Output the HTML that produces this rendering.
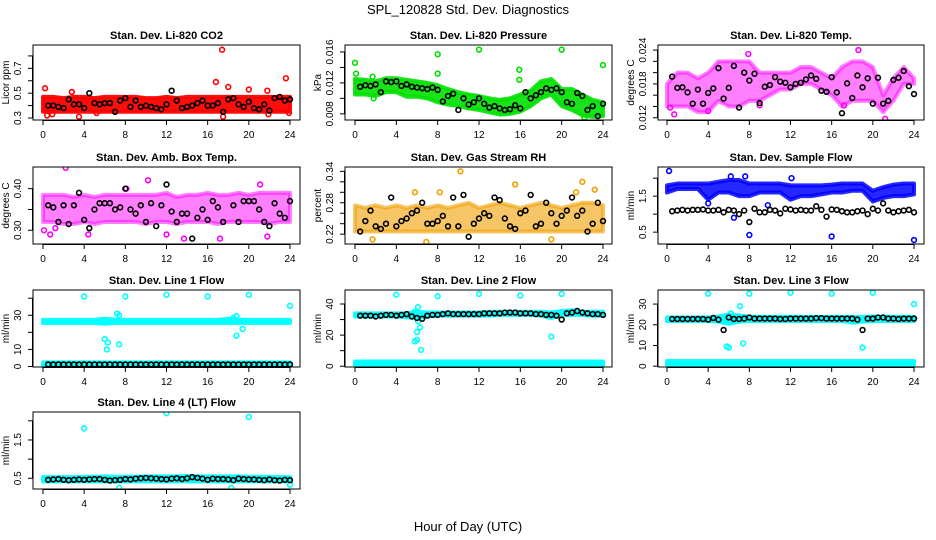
<!DOCTYPE html>
<html><head><meta charset="utf-8">
<style>
html,body{margin:0;padding:0;background:#fff;}
svg{display:block;font-family:"Liberation Sans",Arial,sans-serif;}
</style></head>
<body>
<svg id="chart" width="936" height="540" viewBox="0 0 936 540">
<text x="468" y="14" text-anchor="middle" font-size="13">SPL_120828  Std. Dev. Diagnostics</text>
<text x="468" y="531" text-anchor="middle" font-size="13">Hour of Day (UTC)</text>
</svg>
<script>
// ---------- data ----------
const HOURS = [0.5,1.0,1.5,2.0,2.5,3.0,3.5,4.0,4.5,5.0,5.5,6.0,6.5,7.0,7.5,8.0,8.5,9.0,9.5,10.0,10.5,11.0,11.5,12.0,12.5,13.0,13.5,14.0,14.5,15.0,15.5,16.0,16.5,17.0,17.5,18.0,18.5,19.0,19.5,20.0,20.5,21.0,21.5,22.0,22.5,23.0,23.5,24.0];
const BAND_HOURS = [0,1,2,3,4,5,6,7,8,9,10,11,12,13,14,15,16,17,18,19,20,21,22,23,24];
const X_TICKS = [0,4,8,12,16,20,24];

const CO2_BLACK = [0.40,0.40,0.39,0.38,0.45,0.41,0.41,0.38,0.50,0.42,0.41,0.42,0.42,0.35,0.44,0.46,0.39,0.44,0.39,0.40,0.39,0.38,0.37,0.41,0.52,0.44,0.38,0.39,0.40,0.42,0.44,0.40,0.40,0.42,0.35,0.45,0.46,0.41,0.39,0.43,0.38,0.37,0.41,0.36,0.46,0.47,0.44,0.45];
const CO2_LO = [0.35,0.35,0.35,0.35,0.35,0.35,0.35,0.35,0.35,0.35,0.35,0.35,0.35,0.35,0.35,0.35,0.35,0.35,0.35,0.35,0.35,0.35,0.35,0.35,0.35];
const CO2_HI = [0.47,0.47,0.46,0.47,0.47,0.46,0.47,0.47,0.47,0.47,0.46,0.46,0.47,0.46,0.47,0.47,0.47,0.47,0.47,0.47,0.47,0.47,0.47,0.47,0.47];
const CO2_OUT_X = [0.2,0.4,2.8,3.5,16.8,17.4,18.0,20.0,21.8,23.6,23.9,17.5,21.9,0.9,5.2];
const CO2_OUT_Y = [0.54,0.32,0.51,0.31,0.59,0.85,0.55,0.53,0.52,0.62,0.34,0.31,0.33,0.33,0.34];

const PRES_BLACK = [0.0115,0.0117,0.0116,0.0118,0.0108,0.0122,0.0121,0.0122,0.0116,0.0118,0.0115,0.0114,0.0113,0.0112,0.0114,0.0111,0.0096,0.0103,0.0106,0.0085,0.0100,0.0092,0.0095,0.0100,0.0093,0.0088,0.0090,0.0087,0.0085,0.0086,0.0091,0.0087,0.0108,0.0100,0.0104,0.0108,0.0113,0.0111,0.0113,0.0108,0.0095,0.0093,0.0107,0.0103,0.0085,0.0090,0.0077,0.0093];
const PRES_LO = [0.0105,0.0105,0.0103,0.0108,0.0108,0.0102,0.0102,0.0100,0.0095,0.0092,0.0090,0.0087,0.0085,0.0082,0.0079,0.0080,0.0083,0.0090,0.0100,0.0105,0.0090,0.0085,0.0078,0.0076,0.0077];
const PRES_HI = [0.0125,0.0124,0.0122,0.0126,0.0126,0.0124,0.0122,0.0120,0.0117,0.0112,0.0108,0.0105,0.0103,0.0100,0.0098,0.0100,0.0105,0.0110,0.0122,0.0125,0.0112,0.0112,0.0105,0.0098,0.0095];
const PRES_OUT_X = [0.0,0.1,1.7,4.0,8.0,8.0,12.0,15.9,15.9,20.0,24.0,1.8,22.2];
const PRES_OUT_Y = [0.0146,0.0132,0.0128,0.0187,0.0157,0.0132,0.0163,0.0137,0.0124,0.0163,0.0143,0.0100,0.0075];

const TEMP_BLACK = [0.0193,0.0173,0.0174,0.0165,0.0145,0.0170,0.0145,0.0164,0.0172,0.0208,0.0154,0.0173,0.0212,0.0138,0.0200,0.0186,0.0198,0.0146,0.0175,0.0178,0.0192,0.0184,0.0182,0.0174,0.0180,0.0182,0.0188,0.0195,0.0189,0.0168,0.0166,0.0192,0.0165,0.0128,0.0181,0.0155,0.0195,0.0174,0.0190,0.0145,0.0191,0.0145,0.0150,0.0187,0.0191,0.0203,0.0176,0.0162];
const TEMP_LO = [0.0140,0.0140,0.0140,0.0130,0.0130,0.0150,0.0140,0.0140,0.0150,0.0150,0.0160,0.0170,0.0170,0.0180,0.0180,0.0170,0.0160,0.0140,0.0150,0.0150,0.0150,0.0130,0.0150,0.0180,0.0180];
const TEMP_HI = [0.0180,0.0200,0.0200,0.0190,0.0200,0.0220,0.0220,0.0220,0.0220,0.0200,0.0200,0.0200,0.0200,0.0210,0.0210,0.0200,0.0190,0.0210,0.0220,0.0220,0.0210,0.0160,0.0190,0.0210,0.0190];
const TEMP_OUT_X = [0.3,0.7,7.9,18.6,21.2,9.0,4.0,17.2];
const TEMP_OUT_Y = [0.0138,0.0126,0.0233,0.0240,0.0118,0.0142,0.0132,0.0142];

const BOX_BLACK = [0.36,0.355,0.32,0.36,0.315,0.36,0.39,0.325,0.305,0.35,0.365,0.365,0.365,0.35,0.355,0.40,0.35,0.34,0.36,0.32,0.365,0.31,0.36,0.41,0.345,0.32,0.34,0.34,0.28,0.33,0.35,0.325,0.37,0.355,0.32,0.26,0.36,0.32,0.37,0.37,0.37,0.35,0.32,0.31,0.365,0.34,0.33,0.37];
const BOX_LO = [0.32,0.32,0.315,0.315,0.32,0.315,0.32,0.32,0.32,0.32,0.315,0.32,0.32,0.315,0.32,0.32,0.32,0.315,0.32,0.32,0.32,0.32,0.315,0.32,0.32];
const BOX_HI = [0.385,0.385,0.385,0.38,0.385,0.38,0.385,0.385,0.385,0.385,0.385,0.385,0.39,0.38,0.385,0.385,0.39,0.385,0.385,0.39,0.385,0.39,0.39,0.39,0.39];
const BOX_OUT_X = [0.1,0.7,2.2,10.2,21.1,13.7,12.0,17.2,1.2,21.8,4.4,8.1];
const BOX_OUT_Y = [0.30,0.29,0.45,0.42,0.41,0.28,0.29,0.28,0.305,0.285,0.29,0.40];

const RH_BLACK = [0.225,0.245,0.265,0.235,0.23,0.24,0.29,0.235,0.245,0.25,0.26,0.265,0.28,0.24,0.24,0.245,0.255,0.235,0.29,0.235,0.295,0.215,0.24,0.25,0.26,0.255,0.29,0.285,0.25,0.235,0.23,0.26,0.265,0.295,0.235,0.24,0.28,0.26,0.24,0.255,0.265,0.29,0.255,0.265,0.225,0.24,0.28,0.245];
const RH_LO = [0.225,0.225,0.225,0.225,0.225,0.225,0.225,0.225,0.225,0.225,0.225,0.225,0.225,0.225,0.225,0.225,0.225,0.225,0.225,0.225,0.225,0.225,0.225,0.225,0.225];
const RH_HI = [0.275,0.27,0.275,0.27,0.275,0.27,0.275,0.27,0.275,0.27,0.275,0.28,0.27,0.275,0.28,0.275,0.27,0.275,0.28,0.275,0.27,0.275,0.28,0.28,0.275];
const RH_OUT_X = [10.2,6.9,1.7,15.5,22.0,23.2,5.8,8.2,21.4,19.0];
const RH_OUT_Y = [0.34,0.205,0.21,0.315,0.32,0.305,0.30,0.30,0.30,0.21];

const FLOW_BLACK = [1.08,1.10,1.12,1.10,1.12,1.12,1.13,1.10,1.10,1.12,1.05,1.12,1.10,1.00,1.10,0.78,1.15,1.05,1.05,1.12,1.10,1.02,1.15,1.13,1.10,1.12,1.10,1.10,1.22,1.12,0.93,1.13,1.12,1.08,1.05,1.05,1.08,1.10,1.00,1.15,1.10,1.30,1.10,1.05,1.08,1.10,1.12,1.05];
const FLOW_LO = [1.6,1.7,1.7,1.7,1.4,1.6,1.6,1.5,1.5,1.6,1.6,1.6,1.4,1.5,1.5,1.55,1.6,1.6,1.65,1.65,1.35,1.45,1.5,1.5,1.55];
const FLOW_HI = [1.8,1.85,1.85,1.85,1.85,1.9,1.95,1.95,1.85,1.85,1.85,1.85,1.8,1.8,1.8,1.8,1.82,1.85,1.85,1.85,1.65,1.75,1.82,1.85,1.85];
const FLOW_OUT_X = [0.2,8.0,16.0,24.0,6.5,4.0,9.8,6.2,7.6,12.1];
const FLOW_OUT_Y = [2.2,0.42,0.38,0.28,0.90,1.30,1.25,2.05,2.05,2.00];

const L1_BLACK = [1.2,1.2,1.2,1.2,1.2,1.2,1.2,1.2,1.2,1.2,1.2,1.2,1.2,1.2,1.2,1.2,1.2,1.2,1.2,1.2,1.2,1.2,1.2,1.2,1.2,1.2,1.2,1.2,1.2,1.2,1.2,1.2,1.2,1.2,1.2,1.2,1.2,1.2,1.2,1.2,1.2,1.2,1.2,1.2,1.2,1.2,1.2,1.2];
const L1_LO = [25.5,25.5,25.5,25.5,25.5,25.5,25.0,25.5,25.5,25.5,25.5,25.5,25.5,25.5,25.5,25.5,25.5,25.5,25.5,25.5,25.5,25.5,25.5,25.5,25.5];
const L1_HI = [27.3,27.3,27.3,27.3,27.3,27.3,28.0,27.5,27.3,27.3,27.3,27.3,27.3,27.3,27.3,27.3,27.3,27.3,28.0,27.5,27.3,27.3,27.3,27.3,27.3];
const L1_LO2 = [0.6,0.6,0.6,0.6,0.6,0.6,0.6,0.6,0.6,0.6,0.6,0.6,0.6,0.6,0.6,0.6,0.6,0.6,0.6,0.6,0.6,0.6,0.6,0.6,0.6];
const L1_HI2 = [2.4,2.4,2.4,2.4,2.4,2.4,2.4,2.4,2.4,2.4,2.4,2.4,2.4,2.4,2.4,2.4,2.4,2.4,2.4,2.4,2.4,2.4,2.4,2.4,2.4];
const L1_OUT_X = [4,8,12,16,20,24,6.0,6.2,6.3,7.2,7.4,7.4,18.8,19.4,18.5,18.8];
const L1_OUT_Y = [41,41,42,41,42,35.5,16,10,14,31,30,13,18,22,28.5,29.5];

const L2_BLACK = [32.5,32.5,32.5,32,32.5,33,33,32.5,33,33.5,32,31,30.5,32.5,33,33,33.5,34,33.5,33.5,33.5,33.5,33.5,33.5,34,34,34,34,34.5,34.5,34.5,34,34,34,33.5,33.5,33,33,32.5,30,34,34.5,35.5,34.5,34,33.5,33.5,33];
const L2_LO = [32,32,32,32,32,31.5,31,32,32.5,32.5,32.5,32.5,32.5,32.5,33,33,33,33,32.5,31,33,33,33,32.5,32.5];
const L2_HI = [34,34,34,34,34,34,35,34.5,34.5,34.5,34.5,34.5,34.5,35,35,35,35,35,35,34.5,35.5,36,35,35,35];
const L2_LO2 = [0.5,0.5,0.5,0.5,0.5,0.5,0.5,0.5,0.5,0.5,0.5,0.5,0.5,0.5,0.5,0.5,0.5,0.5,0.5,0.5,0.5,0.5,0.5,0.5,0.5];
const L2_HI2 = [3,3,3,3,3,3,3,3,3,3,3,3,3,3,3,3,3,3,3,3,3,3,3,3,3];
const L2_OUT_X = [4,8,12,16,20,5.8,6.0,6.0,6.3,6.4,6.1,5.8,19,6.1];
const L2_OUT_Y = [46,45,46.5,45.5,46.5,16,17,22,25,10.5,38,35,19,29];

const L3_BLACK = [22.8,22.8,22.8,22.8,22.8,22.8,22.8,22.5,23.3,22.5,17.5,23.5,22.8,22.8,23,23.5,23,23,23,23,23,22.8,22.8,23,23,23,23,23,23.2,23.2,23,23,23,23,23,23,22.5,17.5,23,23,23.5,23.5,23,23,22.8,23,23,23];
const L3_LO = [21.8,21.8,21.8,21.8,21.8,21.5,20.5,21.5,21.8,21.8,21.8,21.8,21.8,21.8,21.8,21.8,21.8,21.8,21.0,21.5,21.8,21.8,21.8,21.8,21.8];
const L3_HI = [23.5,23.5,23.5,23.5,23.5,24,25,24.5,24,23.8,23.8,23.8,23.8,23.8,23.8,23.8,23.8,23.8,23.8,23.8,24,24,23.8,23.8,23.8];
const L3_LO2 = [0.5,0.5,0.5,0.5,0.5,0.5,0.5,0.5,0.5,0.5,0.5,0.5,0.5,0.5,0.5,0.5,0.5,0.5,0.5,0.5,0.5,0.5,0.5,0.5,0.5];
const L3_HI2 = [2.5,2.5,2.5,2.5,2.5,2.5,2.5,2.5,2.5,2.5,2.5,2.5,2.5,2.5,2.5,2.5,2.5,2.5,2.5,2.5,2.5,2.5,2.5,2.5,2.5];
const L3_OUT_X = [4,8,12,16,20,24,5.8,6.0,7.4,7.1,19,6.2];
const L3_OUT_Y = [35,35,35.5,35,35.5,30,9.5,9,11,29,9,25.5];

const L4_BLACK = [0.46,0.47,0.48,0.46,0.45,0.46,0.47,0.46,0.47,0.48,0.48,0.46,0.44,0.45,0.46,0.48,0.47,0.49,0.50,0.51,0.50,0.49,0.48,0.47,0.49,0.50,0.48,0.50,0.53,0.51,0.49,0.46,0.49,0.48,0.48,0.47,0.45,0.49,0.48,0.47,0.47,0.46,0.45,0.47,0.45,0.44,0.46,0.45];
const L4_LO = [0.42,0.42,0.42,0.42,0.42,0.42,0.42,0.42,0.42,0.42,0.42,0.42,0.42,0.42,0.42,0.42,0.42,0.42,0.42,0.42,0.42,0.42,0.42,0.42,0.42];
const L4_HI = [0.53,0.53,0.53,0.53,0.54,0.54,0.55,0.54,0.54,0.54,0.55,0.55,0.55,0.55,0.56,0.55,0.55,0.55,0.55,0.55,0.54,0.54,0.54,0.53,0.53];
const L4_OUT_X = [4,12,20,7.4,18.3,24];
const L4_OUT_Y = [1.8,2.2,2.1,0.25,0.25,0.33];

// ---------- layout ----------
const COL_X0 = [43,355,667], COL_X24 = [290,603,914];
const BOX_L = [33,345,658], BOX_R = [300,612,924];
const ROW_T = [45,167,290,412], ROW_B = [120,244,367,489];

const panels = [
 {name:'co2',title:'Stan. Dev. Li-820 CO2',ylab:'Licor ppm',r:0,c:0,dom:[0.284,0.888],ticks:[0.3,0.4,0.5,0.6,0.7,0.8],labels:['0.3','','0.5','','0.7',''],color:'#ff0000',bandOp:0.95,black:CO2_BLACK,lo:CO2_LO,hi:CO2_HI,ox:CO2_OUT_X,oy:CO2_OUT_Y},
 {name:'pressure',title:'Stan. Dev. Li-820 Pressure',ylab:'kPa',r:0,c:1,dom:[0.0072,0.0169],ticks:[0.008,0.010,0.012,0.014,0.016],labels:['0.008','','0.012','','0.016'],color:'#00e000',bandOp:0.9,black:PRES_BLACK,lo:PRES_LO,hi:PRES_HI,ox:PRES_OUT_X,oy:PRES_OUT_Y},
 {name:'li820-temp',title:'Stan. Dev. Li-820 Temp.',ylab:'degrees C',r:0,c:2,dom:[0.0116,0.0249],ticks:[0.012,0.014,0.016,0.018,0.020,0.022,0.024],labels:['0.012','','','0.018','','','0.024'],color:'#ff00ff',bandOp:0.5,black:TEMP_BLACK,lo:TEMP_LO,hi:TEMP_HI,ox:TEMP_OUT_X,oy:TEMP_OUT_Y},
 {name:'box-temp',title:'Stan. Dev. Amb. Box Temp.',ylab:'degrees C',r:1,c:0,dom:[0.267,0.452],ticks:[0.30,0.35,0.40],labels:['0.30','','0.40'],color:'#ff00ff',bandOp:0.5,black:BOX_BLACK,lo:BOX_LO,hi:BOX_HI,ox:BOX_OUT_X,oy:BOX_OUT_Y},
 {name:'rh',title:'Stan. Dev. Gas Stream RH',ylab:'percent',r:1,c:1,dom:[0.2012,0.3483],ticks:[0.22,0.24,0.26,0.28,0.30,0.32,0.34],labels:['0.22','','','0.28','','','0.34'],color:'#f0a000',bandOp:0.6,black:RH_BLACK,lo:RH_LO,hi:RH_HI,ox:RH_OUT_X,oy:RH_OUT_Y},
 {name:'sample-flow',title:'Stan. Dev. Sample Flow',ylab:'ml/min',r:1,c:2,dom:[0.17,2.31],ticks:[0.5,1.0,1.5,2.0],labels:['0.5','','1.5',''],color:'#0000ff',bandOp:0.85,black:FLOW_BLACK,lo:FLOW_LO,hi:FLOW_HI,ox:FLOW_OUT_X,oy:FLOW_OUT_Y},
 {name:'line1-flow',title:'Stan. Dev. Line 1 Flow',ylab:'ml/min',r:2,c:0,dom:[-0.3,44.8],ticks:[0,10,20,30,40],labels:['0','10','','30',''],color:'#00ffff',bandOp:0.95,black:L1_BLACK,lo:L1_LO,hi:L1_HI,lo2:L1_LO2,hi2:L1_HI2,ox:L1_OUT_X,oy:L1_OUT_Y},
 {name:'line2-flow',title:'Stan. Dev. Line 2 Flow',ylab:'ml/min',r:2,c:1,dom:[-0.5,49],ticks:[0,10,20,30,40],labels:['0','','20','','40'],color:'#00ffff',bandOp:0.95,black:L2_BLACK,lo:L2_LO,hi:L2_HI,lo2:L2_LO2,hi2:L2_HI2,ox:L2_OUT_X,oy:L2_OUT_Y},
 {name:'line3-flow',title:'Stan. Dev. Line 3 Flow',ylab:'ml/min',r:2,c:2,dom:[-0.4,36.8],ticks:[0,10,20,30],labels:['0','10','20','30'],color:'#00ffff',bandOp:0.95,black:L3_BLACK,lo:L3_LO,hi:L3_HI,lo2:L3_LO2,hi2:L3_HI2,ox:L3_OUT_X,oy:L3_OUT_Y},
 {name:'line4-flow',title:'Stan. Dev. Line 4 (LT) Flow',ylab:'ml/min',r:3,c:0,dom:[0.22,2.23],ticks:[0.5,1.0,1.5,2.0],labels:['0.5','','1.5',''],color:'#00ffff',bandOp:0.95,black:L4_BLACK,lo:L4_LO,hi:L4_HI,ox:L4_OUT_X,oy:L4_OUT_Y}
];

const NS='http://www.w3.org/2000/svg';
const svg=document.getElementById('chart');
function mk(tag,attrs,parent){const e=document.createElementNS(NS,tag);for(const k in attrs)e.setAttribute(k,attrs[k]);(parent||svg).appendChild(e);return e;}

panels.forEach(p=>{
  const L=BOX_L[p.c],R=BOX_R[p.c],T=ROW_T[p.r],B=ROW_B[p.r];
  const xs=v=>COL_X0[p.c]+(COL_X24[p.c]-COL_X0[p.c])*v/24;
  const ys=v=>B-(v-p.dom[0])/(p.dom[1]-p.dom[0])*(B-T);
  const g=mk('g',{});
  
  
  const clip=mk('clipPath',{id:'clip-'+p.name},g);
  mk('rect',{x:L,y:T,width:R-L,height:B-T},clip);
  const pg=mk('g',{'clip-path':'url(#clip-'+p.name+')'},g);
  
  
  function band(lo,hi,nm){
    let pts=[];
    BAND_HOURS.forEach((h,i)=>pts.push(xs(h)+','+ys(hi[i])));
    for(let i=BAND_HOURS.length-1;i>=0;i--)pts.push(xs(BAND_HOURS[i])+','+ys(lo[i]));
    const e=mk('polygon',{points:pts.join(' '),fill:p.color,'fill-opacity':p.bandOp,stroke:p.color,'stroke-width':4,'stroke-linejoin':'round','stroke-opacity':p.bandOp},pg);
    
    
  }
  band(p.lo,p.hi,p.name+'-band');
  if(p.lo2) band(p.lo2,p.hi2,p.name+'-low-band');
  p.ox.forEach((x,i)=>{
    const e=mk('circle',{cx:xs(x),cy:ys(p.oy[i]),r:2.4,fill:'none',stroke:p.color,'stroke-width':1.6},pg);
    
    
  });
  p.black.forEach((v,i)=>{
    const e=mk('circle',{cx:xs(HOURS[i]),cy:ys(v),r:2.4,fill:'none',stroke:'#000','stroke-width':1.6},pg);
    
    
  });
  const box=mk('rect',{x:L,y:T,width:R-L,height:B-T,fill:'none',stroke:'#000','stroke-width':1},g);
  
  
  const t=mk('text',{x:(L+R)/2,y:T-6,'text-anchor':'middle','font-size':11,'font-weight':'bold'},g);
  t.textContent=p.title;
  
  
  // x axis
  mk('line',{x1:xs(0),x2:xs(24),y1:B+0.5,y2:B+0.5,stroke:'#000'},g);
  X_TICKS.forEach(v=>{
    mk('line',{x1:xs(v),x2:xs(v),y1:B,y2:B+5,stroke:'#000'},g);
    const e=mk('text',{x:xs(v),y:B+18,'text-anchor':'middle','font-size':10},g);
    e.textContent=v;
    
    
  });
  // y axis
  const y0=ys(p.ticks[0]),y1=ys(p.ticks[p.ticks.length-1]);
  mk('line',{x1:L-0.5,x2:L-0.5,y1:y0,y2:y1,stroke:'#000'},g);
  p.ticks.forEach((v,i)=>{
    const yy=ys(v);
    mk('line',{x1:L-5,x2:L,y1:yy,y2:yy,stroke:'#000'},g);
    if(p.labels[i]){
      const e=mk('text',{x:L-12,y:yy,'text-anchor':'middle','font-size':10,transform:'rotate(-90 '+(L-12)+' '+yy+')'},g);
      e.textContent=p.labels[i];
      
      
    }
  });
  const yl=mk('text',{x:L-24,y:(T+B)/2,'text-anchor':'middle','font-size':10,transform:'rotate(-90 '+(L-24)+' '+((T+B)/2)+')'},g);
  yl.textContent=p.ylab;
  
  
});
</script>
</body></html>
